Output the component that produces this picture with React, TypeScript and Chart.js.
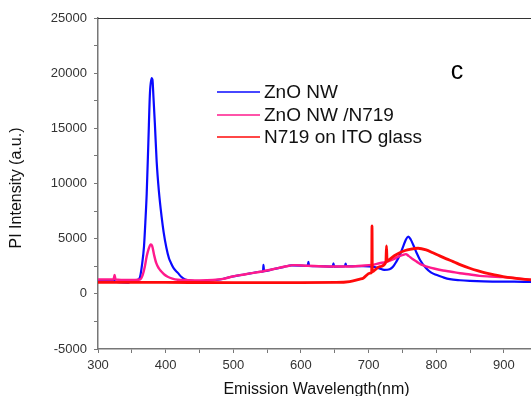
import React, { useEffect, useRef } from "react";
import { Chart, registerables } from "chart.js";

Chart.register(...registerables);

// ---------- data ----------
const seriesLabels = ["ZnO NW", "ZnO NW /N719", "N719 on ITO glass"];
const seriesColors = ["#0a0aff", "#ff1a8c", "#ff0a0a"];

const znoNm = [
  300, 320, 330, 345, 352, 358, 362, 365, 368, 370, 372, 374.4, 376.8, 379.3, 380.5, 382, 384,
  386.7, 390, 394, 397, 401, 405, 408, 412, 418, 423, 428, 438, 450, 465, 480, 497, 510, 525,
  540, 544, 544.5, 545.5, 560, 575, 586, 600, 610, 611, 612, 625, 647, 648, 649, 665, 666, 667,
  680, 692, 706, 716, 723, 731, 736, 741, 746, 751, 755, 758.5, 762, 766, 771, 776, 785, 792,
  800, 810, 820, 835, 850, 870, 894, 915, 940,
];
const znoInt = [
  1230, 1230, 1050, 1020, 1200, 1250, 1500, 2600, 4300, 6500, 9100, 13650, 18200, 19550, 19400,
  17800, 15500, 12000, 9300, 7000, 5600, 4200, 3200, 2780, 2300, 1900, 1550, 1330, 1175, 1150,
  1200, 1300, 1550, 1700, 1850, 2000, 2020, 2620, 2050, 2250, 2450, 2580, 2560, 2530, 2900,
  2530, 2500, 2470, 2770, 2470, 2500, 2750, 2500, 2500, 2520, 2470, 2300, 2170, 2230, 2450,
  2920, 3500, 4280, 4900, 5180, 4950, 4430, 3700, 3070, 2320, 1950, 1720, 1500, 1330, 1230,
  1175, 1130, 1110, 1100, 1085,
];

const znoDyeNm = [
  300, 323, 324.5, 326, 345, 362, 366, 369, 372, 375, 378, 380, 383, 386, 390, 394, 398, 403,
  410, 418, 430, 450, 470, 485, 497, 510, 525, 540, 560, 575, 590, 610, 640, 670, 690, 705, 716,
  726, 736, 745, 751, 755, 759, 765, 771, 778, 786, 798, 810, 822, 835, 850, 864, 880, 899, 920,
  940,
];
const znoDyeInt = [
  1300, 1300, 1720, 1300, 1250, 1300, 1700, 2400, 3400, 4100, 4480, 4350, 3500, 2800, 2300,
  2000, 1750, 1550, 1380, 1280, 1250, 1220, 1250, 1350, 1550, 1700, 1850, 2000, 2250, 2450, 2600,
  2550, 2480, 2480, 2550, 2620, 2770, 2900, 3130, 3400, 3530, 3600, 3440, 3150, 2920, 2650, 2470,
  2270, 2110, 2000, 1870, 1750, 1630, 1570, 1510, 1400, 1270,
];

const dyeItoNm = [
  300, 400, 500, 600, 652, 672, 687, 692, 702, 704.5, 705, 705.5, 707, 716.5, 725.5, 726.4, 727.3,
  731, 738, 746, 754, 761, 773, 785, 795, 805, 815, 825, 837, 849.5, 862, 874, 886, 898.6, 913,
  928, 940,
];
const dyeItoInt = [
  1040, 1030, 1020, 1020, 1030, 1110, 1330, 1420, 1870, 1950, 6150, 2000, 2050, 2470, 2880, 4340,
  2950, 3130, 3450, 3730, 3930, 4040, 4130, 3980, 3720, 3440, 3170, 2920, 2600, 2320, 2080, 1870,
  1710, 1570, 1440, 1330, 1270,
];

const xMin = 300;
const xMax = 940;
const xTickValues = [300, 350, 400, 450, 500, 550, 600, 650, 700, 750, 800, 850, 900];
const xLabelStep = 100;
const yMin = -5000;
const yMax = 25000;
const yTickStep = 2500;
const yLabelStep = 5000;

const xTitle = "Emission Wavelength(nm)";
const yTitle = "PI Intensity (a.u.)";
const panelLetter = "c";

const FONT = "'Liberation Sans', Arial, sans-serif";

const toPoints = (xs: number[], ys: number[]) => xs.map((x, i) => ({ x, y: ys[i] }));

const decorPlugin = {
  id: "decor",
  afterDraw(chart: any) {
    const { ctx, chartArea: ca } = chart;
    ctx.save();
    // top frame line
    ctx.strokeStyle = "#333";
    ctx.lineWidth = 1;
    ctx.beginPath();
    ctx.moveTo(ca.left, ca.top + 0.5);
    ctx.lineTo(ca.right, ca.top + 0.5);
    ctx.stroke();

    // legend
    const rowY = [92, 115, 137];
    const order = [0, 1, 2];
    ctx.font = `19px ${FONT}`;
    ctx.textBaseline = "middle";
    ctx.textAlign = "left";
    order.forEach((di, r) => {
      const ds = chart.data.datasets[di];
      ctx.strokeStyle = ds.borderColor;
      ctx.lineWidth = 1.5;
      ctx.beginPath();
      ctx.moveTo(217, rowY[r]);
      ctx.lineTo(260, rowY[r]);
      ctx.stroke();
      ctx.fillStyle = "#111";
      ctx.fillText(ds.label, 264, rowY[r] + 1);
    });

    // panel letter
    ctx.font = `25px ${FONT}`;
    ctx.textAlign = "center";
    ctx.fillStyle = "#000";
    ctx.fillText(panelLetter, 457, 72);

    // x axis title
    ctx.font = `16px ${FONT}`;
    ctx.textAlign = "center";
    ctx.textBaseline = "alphabetic";
    ctx.fillStyle = "#111";
    ctx.fillText(xTitle, (ca.left + ca.right) / 2 + 2, 394);

    // y axis title
    ctx.translate(21, 188);
    ctx.rotate(-Math.PI / 2);
    ctx.textBaseline = "alphabetic";
    ctx.fillText(yTitle, 0, 0);
    ctx.restore();
  },
};

export default function App() {
  const canvasRef = useRef<HTMLCanvasElement | null>(null);

  useEffect(() => {
    if (!canvasRef.current) return;
    const chart = new Chart(canvasRef.current, {
      type: "line",
      data: {
        datasets: [
          {
            label: seriesLabels[0],
            data: toPoints(znoNm, znoInt),
            borderColor: seriesColors[0],
            borderWidth: 2.2,
            order: 2,
          },
          {
            label: seriesLabels[1],
            data: toPoints(znoDyeNm, znoDyeInt),
            borderColor: seriesColors[1],
            borderWidth: 2.4,
            order: 1,
          },
          {
            label: seriesLabels[2],
            data: toPoints(dyeItoNm, dyeItoInt),
            borderColor: seriesColors[2],
            borderWidth: 2.8,
            order: 0,
          },
        ],
      },
      options: {
        animation: false,
        responsive: false,
        devicePixelRatio: 1,
        layout: { padding: { top: 18, left: 0, right: 0, bottom: 0 } },
        elements: {
          point: { radius: 0 },
          line: { cubicInterpolationMode: "monotone", fill: false },
        },
        plugins: {
          legend: { display: false },
          tooltip: { enabled: false },
        },
        scales: {
          x: {
            type: "linear",
            min: xMin,
            max: xMax,
            afterBuildTicks: (scale: any) => {
              scale.ticks = xTickValues.map((v) => ({ value: v }));
            },
            afterFit: (scale: any) => {
              scale.height = 47;
              scale.paddingLeft = 0;
              scale.paddingRight = 0;
            },
            grid: {
              display: true,
              drawOnChartArea: false,
              drawTicks: true,
              tickLength: 4,
              color: "#777",
              lineWidth: 1,
            },
            border: { display: true, color: "#777", width: 1.5 },
            ticks: {
              autoSkip: false,
              maxRotation: 0,
              padding: 5,
              color: "#333",
              font: { family: FONT, size: 13 },
              callback: (v: any) => (Number(v) % xLabelStep === 0 ? String(v) : ""),
            },
          },
          y: {
            type: "linear",
            min: yMin,
            max: yMax,
            afterFit: (scale: any) => {
              scale.width = 98;
              scale.paddingTop = 0;
              scale.paddingBottom = 0;
            },
            grid: {
              display: true,
              drawOnChartArea: false,
              drawTicks: true,
              tickLength: 4,
              color: "#777",
              lineWidth: 1,
            },
            border: { display: true, color: "#777", width: 1.5 },
            ticks: {
              stepSize: yTickStep,
              autoSkip: false,
              padding: 7,
              color: "#333",
              font: { family: FONT, size: 13 },
              callback: (v: any) => (Number(v) % yLabelStep === 0 ? String(v) : ""),
            },
          },
        },
      },
      plugins: [decorPlugin],
    });
    return () => chart.destroy();
  }, []);

  return (
    <div style={{ position: "fixed", left: 0, top: 0, width: 531, height: 396, background: "#fff" }}>
      <canvas ref={canvasRef} width={531} height={396} style={{ display: "block" }} />
    </div>
  );
}
